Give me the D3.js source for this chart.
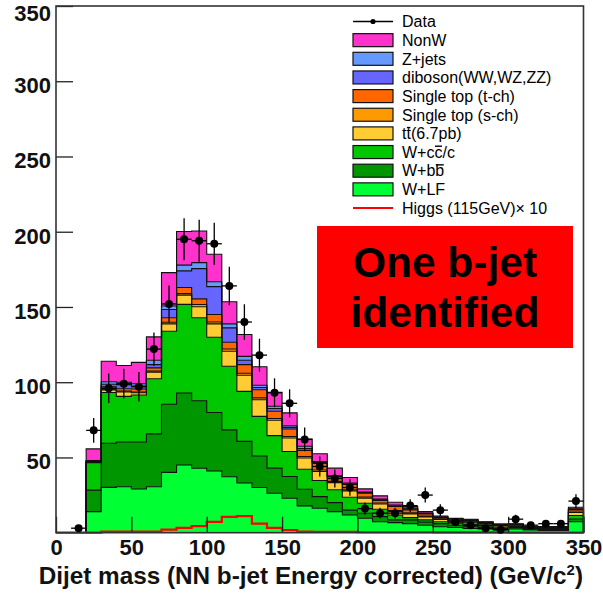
<!DOCTYPE html>
<html><head><meta charset="utf-8">
<script src="https://cdn.jsdelivr.net/npm/d3@7/dist/d3.min.js"></script>
<style>
body{margin:0;background:#fff}
svg{display:block}
text{font-family:"Liberation Sans",Arial,Helvetica,sans-serif}
</style>
</head><body>
<svg id="chart" width="603" height="593"></svg>
<script>
// ---- data (bins of 10 GeV/c^2, lower edges) ----
const binLow = [0,10,20,30,40,50,60,70,80,90,100,110,120,130,140,150,160,170,180,190,200,210,220,230,240,250,260,270,280,290,300,310,320,330,340];
const binWidth = 10;

const wLF    = [0,0,14,30.1,30.5,29,30.5,40.1,45,42.8,41,37.2,33,30,26.2,22.9,17.8,16.2,14,11.8,9.6,7.3,6.7,6,5,4,3.5,2.9,2.5,1.8,2.5,1.8,1.5,1.5,7.3];
const wBB    = [0,0,14.3,29.3,29.8,31.3,35.2,45.3,47.8,44.9,38.9,31.1,27.7,21,16.7,14.4,11.1,7.8,6,3.2,3.3,3.4,1.8,2.5,2,2,1.5,1.5,1.2,1,0.9,0.6,0.7,0.7,1.8];
const wCC    = [0,0,18.2,33.8,30.3,31.2,36.6,48.5,58.9,55.1,50,42.3,33.2,26.3,21.6,16.7,13.3,10.7,8.5,8.6,6.7,4.9,3.3,1.5,1.5,1.3,1.3,1.3,1,0.9,0.8,0.5,0.6,0.6,2.3];
const ttbar  = [0,0,0.3,1.7,2.9,1.5,4.3,4.9,6.2,7.3,8.9,10,10.7,11,10.2,8.9,7.4,6,4.8,4.2,3.4,3.5,2.2,2.5,2,1.5,1.3,1.2,1,0.9,0.8,0.5,0.6,0.6,2];
const stopS  = [0,0,0.1,0.5,0.6,0.5,0.8,1,1,1.5,1.2,1.5,1.4,1.3,1.2,1,1,1,0.8,0.7,0.7,0.6,0.8,0.7,0.5,0.4,0.4,0.3,0.3,0.2,0.2,0.1,0.1,0.1,0.4];
const stopT  = [0,0,0.3,1.5,1.6,2,2.1,3,4,3.8,5,4.5,5.7,5.4,4.8,5,4.1,4.3,2.9,3.5,2.5,1.8,2.6,2,1.5,0.8,0.9,0.8,0.6,0.5,0.4,0.3,0.3,0.3,1.3];
const diboson= [0,0,0.3,1.7,2.7,2,2.2,5.5,11.1,20.1,18.5,9.5,2.9,1.5,1.8,1.1,1.3,0.6,0.4,0.5,0.4,0.4,0.5,0.5,0.3,0.3,0.2,0.3,0.2,0.2,0.1,0.1,0.1,0.1,0.4];
const zjets  = [0,0,0.5,1.7,1.6,1.5,2.9,2.3,3.8,4,3.3,2.7,2.6,1.5,1.5,1.1,1.4,0.7,0.4,0.5,0.4,0.4,0.5,0.5,0.3,0.3,0.2,0.3,0.2,0.1,0.1,0.1,0.1,0.1,0.4];
const nonW   = [0,0,7.7,13.6,11.1,14.2,15.5,22.2,22.4,21,18.2,14.7,14.5,12.3,9.3,8.5,4.8,5.2,5.1,3.7,2.1,2.2,1.8,1.1,0.9,0.5,0.3,0.3,0.3,0.2,0,0,0,0,1];
const higgsX10 = [0,0,0,0.7,0.7,0.7,0.7,2,3.2,4.4,7.2,10.5,11,6,3.2,1.8,0.7,0.5,0.5,0.5,0.3,0.3,0.3,0.3,0.3,0.2,0.2,0.2,0.2,0.2,0.1,0.1,0.1,0.1,0.1];
const dataCounts = [0,3,68,96,99,97,122,152,195,194,192,164,140,118,93,86,62,44,36,30,16,13,13,18,25,15,7,5,3,2,9,5,6,6,21];
const dataErr    = [0,1.7,8.2,9.8,9.9,9.8,11,12.3,14,13.9,13.9,12.8,11.8,10.9,9.6,9.3,7.9,6.6,6,5.5,4,3.6,3.6,4.2,5,3.9,2.6,2.2,1.7,1.4,3,2.2,2.4,2.4,4.6];

const xTicks = [0,50,100,150,200,250,300,350];
const yTicks = [50,100,150,200,250,300,350];
const xLabel = "Dijet mass (NN b-jet Energy corrected) (GeV/c";

const layerKeys   = ["wLF","wBB","wCC","ttbar","stopS","stopT","diboson","zjets","nonW"];
const layerValues = [wLF,wBB,wCC,ttbar,stopS,stopT,diboson,zjets,nonW];
const layerColors = ["#00ff33","#009600","#00c800","#ffcc33","#ff9900","#ff6600","#6666ff","#6699ff","#ff33cc"];

const legendItems = [
  {type:"data", label:[["Data",false]]},
  {type:"box", color:"#ff33cc", label:[["NonW",false]]},
  {type:"box", color:"#6699ff", label:[["Z+jets",false]]},
  {type:"box", color:"#6666ff", label:[["diboson(WW,WZ,ZZ)",false]]},
  {type:"box", color:"#ff6600", label:[["Single top (t-ch)",false]]},
  {type:"box", color:"#ff9900", label:[["Single top (s-ch)",false]]},
  {type:"box", color:"#ffcc33", label:[["t",false],["t",true],["(6.7pb)",false]]},
  {type:"box", color:"#00c800", label:[["W+c",false],["c",true],["/c",false]]},
  {type:"box", color:"#009600", label:[["W+b",false],["b",true]]},
  {type:"box", color:"#00ff33", label:[["W+LF",false]]},
  {type:"line", color:"#ff0000", label:[["Higgs (115GeV)\u00d7 10",false]]}
];

// ---- drawing ----
const svg = d3.select("#chart");
const x = d3.scaleLinear().domain([0,350]).range([56,583.5]);
const y = d3.scaleLinear().domain([0,350]).range([532.7,6]);

const rows = binLow.map((lo,i)=>{
  const r = {lo:lo};
  layerKeys.forEach((k,j)=>{ r[k] = layerValues[j][i]; });
  return r;
});
const stacked = d3.stack().keys(layerKeys)(rows);
const firstBin = 2;

stacked.forEach((series,j)=>{
  const pts = [];
  for (let i=firstBin;i<series.length;i++){
    const lo = binLow[i], hi = lo+binWidth;
    pts.push({x:lo, y0:series[i][0], y1:series[i][1]});
    pts.push({x:hi, y0:series[i][0], y1:series[i][1]});
  }
  const area = d3.area().x(d=>x(d.x)).y0(d=>y(d.y0)).y1(d=>y(d.y1));
  svg.append("path").attr("d",area(pts)).attr("fill",layerColors[j]).attr("stroke","none");
});
stacked.forEach((series)=>{
  const pts = [{x:binLow[firstBin], v:0}];
  for (let i=firstBin;i<series.length;i++){
    const lo = binLow[i], hi = lo+binWidth;
    pts.push({x:lo, v:series[i][1]});
    pts.push({x:hi, v:series[i][1]});
  }
  pts.push({x:350, v:0});
  const line = d3.line().x(d=>x(d.x)).y(d=>y(d.v));
  svg.append("path").attr("d",line(pts)).attr("fill","none")
     .attr("stroke","#111").attr("stroke-width",1.1);
});

// Higgs x10 step line
{
  const pts = [];
  higgsX10.forEach((v,i)=>{ pts.push({x:binLow[i],v:v}); pts.push({x:binLow[i]+binWidth,v:v}); });
  const line = d3.line().x(d=>x(d.x)).y(d=>y(d.v));
  svg.append("path").attr("d",line(pts)).attr("fill","none").attr("stroke","#ff0000").attr("stroke-width",2.2);
}

// axes ticks (inside the frame)
const gx = svg.append("g").attr("transform",`translate(0,${y(0)})`);
gx.call(d3.axisBottom(x).tickValues(d3.range(0,351,10)).tickSize(-8).tickFormat(""));
gx.call(d3.axisBottom(x).tickValues(xTicks).tickSize(-16).tickPadding(7).tickFormat(d3.format("d")));
gx.selectAll(".domain").remove();
gx.selectAll("line").attr("stroke","#222").attr("stroke-width",1.3);
gx.selectAll("text").attr("font-size",22).attr("font-weight","bold").attr("fill","#111");

const gy = svg.append("g").attr("transform",`translate(${x(0)},0)`);
gy.call(d3.axisLeft(y).tickValues(d3.range(0,351,10)).tickSize(-9).tickFormat(""));
gy.call(d3.axisLeft(y).tickValues(yTicks).tickSize(-17).tickPadding(5).tickFormat(d3.format("d")));
gy.selectAll(".domain").remove();
gy.selectAll("line").attr("stroke","#222").attr("stroke-width",1.3);
gy.selectAll("text").attr("font-size",22).attr("font-weight","bold").attr("fill","#111")
  .attr("dy",d=>d===350?"0.66em":"0.52em");

// frame
svg.append("rect").attr("x",x(0)).attr("y",y(350)).attr("width",x(350)-x(0)).attr("height",y(0)-y(350))
   .attr("fill","none").attr("stroke","#333").attr("stroke-width",1.6);

// data points with error bars
const dg = svg.append("g");
binLow.forEach((lo,i)=>{
  const v = dataCounts[i]; if (!v) return;
  const cx = x(lo+binWidth/2), cy = y(v);
  dg.append("line").attr("x1",cx).attr("x2",cx).attr("y1",y(v-dataErr[i])).attr("y2",y(v+dataErr[i]))
    .attr("stroke","#000").attr("stroke-width",1.3);
  dg.append("line").attr("x1",x(lo)).attr("x2",x(lo+binWidth)).attr("y1",cy).attr("y2",cy)
    .attr("stroke","#000").attr("stroke-width",1.3);
  dg.append("circle").attr("cx",cx).attr("cy",cy).attr("r",4).attr("fill","#000");
});

// legend
const lg = svg.append("g");
legendItems.forEach((it,i)=>{
  const cy = 21.5 + i*18.65;
  if (it.type==="data"){
    lg.append("line").attr("x1",353).attr("x2",393).attr("y1",cy).attr("y2",cy).attr("stroke","#000").attr("stroke-width",1.3);
    lg.append("circle").attr("cx",373).attr("cy",cy).attr("r",2.6).attr("fill","#000");
  } else if (it.type==="box"){
    lg.append("rect").attr("x",353).attr("y",cy-6.5).attr("width",40).attr("height",13)
      .attr("fill",it.color).attr("stroke","#111").attr("stroke-width",1.2);
  } else {
    lg.append("line").attr("x1",353).attr("x2",393).attr("y1",cy).attr("y2",cy).attr("stroke",it.color).attr("stroke-width",2.2);
  }
  const t = lg.append("text").attr("x",402).attr("y",cy).attr("dy","0.36em").attr("font-size",16).attr("fill","#000");
  let idx = 0; const bars = [];
  it.label.forEach(([s,ov])=>{
    t.append("tspan").text(s);
    if (ov) bars.push(idx);
    idx += s.length;
  });
  bars.forEach(ci=>{
    const ext = t.node().getExtentOfChar(ci);
    lg.append("line").attr("x1",ext.x+0.5).attr("x2",ext.x+ext.width-0.5)
      .attr("y1",ext.y+2.4).attr("y2",ext.y+2.4).attr("stroke","#000").attr("stroke-width",1.4);
  });
});

// red label box
svg.append("rect").attr("x",317).attr("y",226).attr("width",256).attr("height",122).attr("fill","#ff0000");
svg.append("text").attr("x",445).attr("y",277).attr("text-anchor","middle").attr("font-size",42.5)
   .attr("font-weight","bold").attr("fill","#000").text("One b-jet");
svg.append("text").attr("x",445).attr("y",327).attr("text-anchor","middle").attr("font-size",42.5)
   .attr("font-weight","bold").attr("fill","#000").text("identified");

// x axis title
const xt = svg.append("text").attr("x",583).attr("y",584).attr("text-anchor","end")
  .attr("font-size",24.3).attr("font-weight","bold").attr("fill","#111");
xt.append("tspan").text(xLabel);
xt.append("tspan").attr("font-size",15).attr("dy",-9).text("2");
xt.append("tspan").attr("dy",9).text(")");
</script>
</body></html>
